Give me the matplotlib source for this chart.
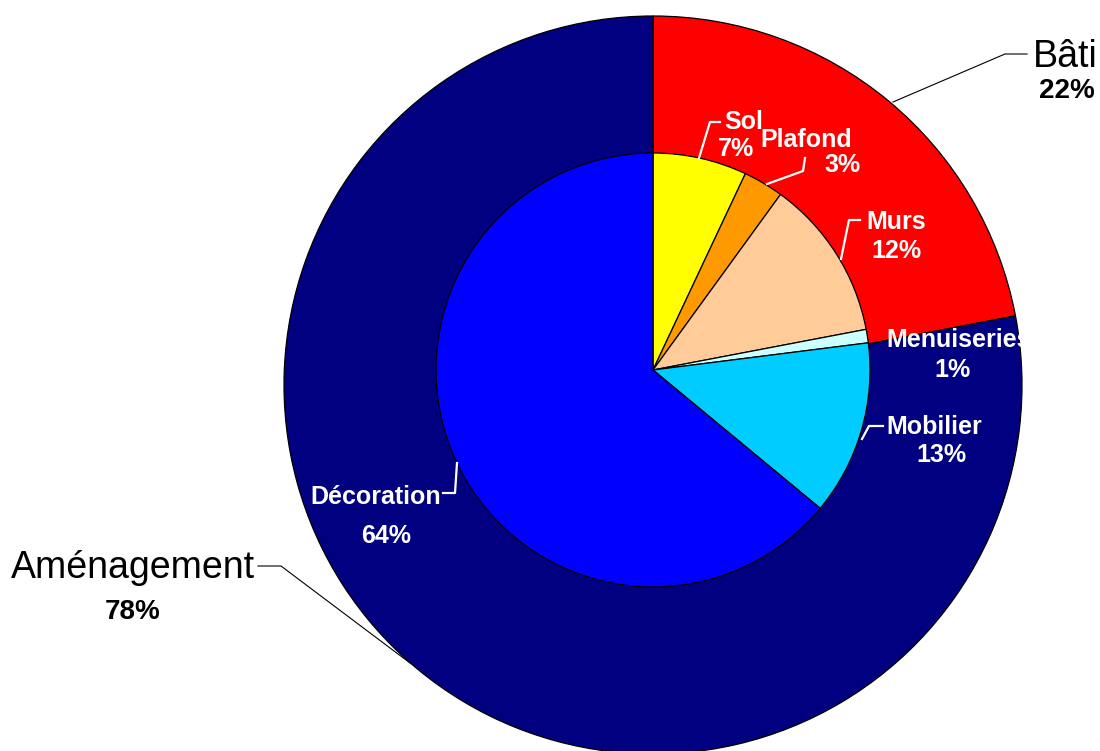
import matplotlib.pyplot as plt

# Répartition du budget : grandes familles (anneau) et postes (disque central)
familles = ['Bâti', 'Aménagement']
familles_pct = [22, 78]
familles_couleurs = ['#FF0000', '#000080']

postes = ['Sol', 'Plafond', 'Murs', 'Menuiseries', 'Mobilier', 'Décoration']
postes_pct = [7, 3, 12, 1, 13, 64]
postes_couleurs = ['#FFFF00', '#FF9900', '#FFCC99', '#CCFFFF', '#00CCFF', '#0000FF']

W, H = 1100, 751


def px(x, y):
    # coordonnées "écran" (origine en haut à gauche) -> coordonnées des axes
    return x, H - y


fig = plt.figure(figsize=(W / 100, H / 100), dpi=100)
ax = fig.add_axes([0, 0, 1, 1])

bord = dict(edgecolor='black', linewidth=0.9)
ax.pie(familles_pct, colors=familles_couleurs, startangle=90, counterclock=False,
       center=px(653, 385), radius=369, wedgeprops=bord)
ax.pie(postes_pct, colors=postes_couleurs, startangle=90, counterclock=False,
       center=px(653, 370), radius=217, wedgeprops=bord)

ax.set_xlim(0, W)
ax.set_ylim(0, H)
ax.set_aspect('equal')
ax.axis('off')

police = 'Liberation Sans'

# étiquettes de l'anneau extérieur
ext = [
    (familles[0], familles_pct[0], (1065, 67), (1067, 98),
     [(1027, 54), (1005, 54), (893, 102)]),
    (familles[1], familles_pct[1], (133, 578), (133, 619),
     [(258, 566), (281, 566), (410, 663)]),
]
for nom, pct, pos_nom, pos_pct, trait in ext:
    ax.text(*px(*pos_nom), nom, ha='center', va='baseline', fontsize=27,
            family=police, color='black')
    ax.text(*px(*pos_pct), f'{pct}%', ha='center', va='baseline', fontsize=20,
            family=police, weight='bold', color='black')
    xs, ys = zip(*[px(*p) for p in trait])
    ax.plot(xs, ys, color='black', lw=0.8)

# étiquettes des postes (texte blanc)
pos_postes = {
    'Sol': ((744, 129), (736, 156), [(720, 122), (710, 122), (699, 158)]),
    'Plafond': ((806, 147), (843, 172), [(805, 158), (803, 171), (767, 184)]),
    'Murs': ((896, 229), (896, 258), [(860, 220), (849, 220), (841, 259)]),
    'Menuiseries': ((959, 347), (952, 377), None),
    'Mobilier': ((934, 434), (941, 462), [(883, 426), (869, 426), (862, 439)]),
    'Décoration': ((376, 504), (386, 543), [(443, 493), (455, 493), (457, 463)]),
}
for nom, pct in zip(postes, postes_pct):
    pos_nom, pos_pct, trait = pos_postes[nom]
    ax.text(*px(*pos_nom), nom, ha='center', va='baseline', fontsize=18,
            family=police, weight='bold', color='white')
    ax.text(*px(*pos_pct), f'{pct}%', ha='center', va='baseline', fontsize=18,
            family=police, weight='bold', color='white')
    if trait:
        xs, ys = zip(*[px(*p) for p in trait])
        ax.plot(xs, ys, color='white', lw=1.6)

fig.savefig('out.png', dpi=100, facecolor='white')
